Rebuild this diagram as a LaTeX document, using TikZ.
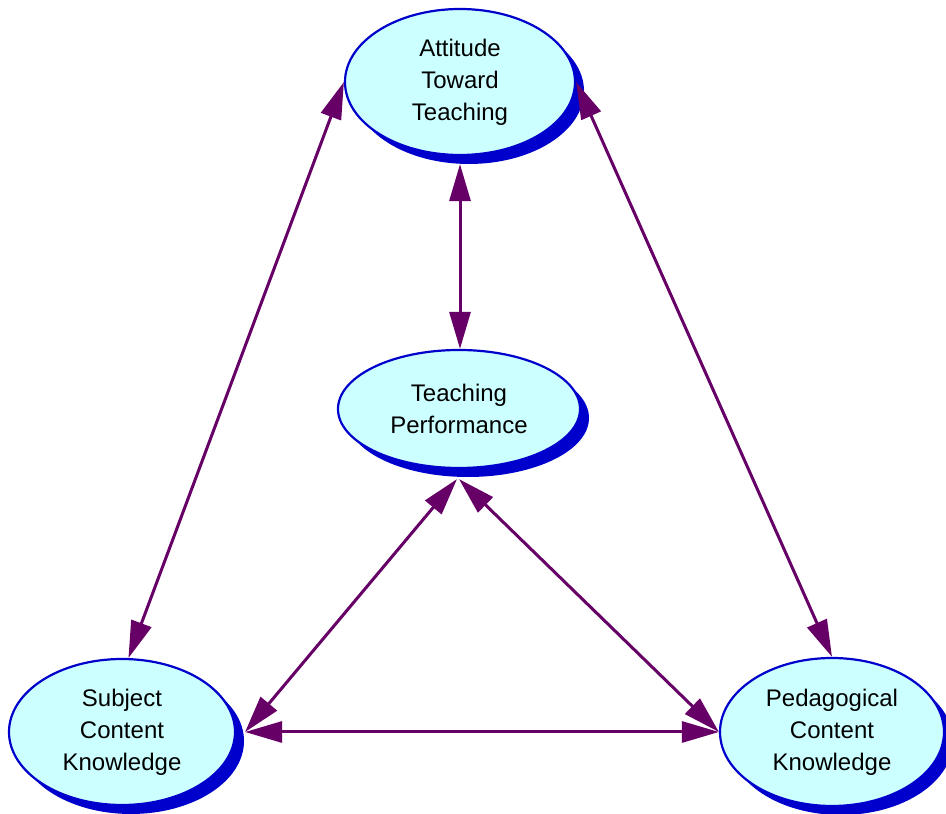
\documentclass[tikz,border=0pt]{standalone}
\usepackage{fontspec}
\setmainfont{Liberation Sans}
\usetikzlibrary{shapes.geometric,arrows.meta,shadows}
\definecolor{fillcyan}{HTML}{CCFFFF}
\definecolor{edgeblue}{HTML}{0000CC}
\definecolor{arrowpurple}{HTML}{660066}
\tikzset{
  concept/.style={ellipse, draw=edgeblue, line width=2.2pt, fill=fillcyan,
    inner sep=0pt, align=center, font=\fontsize{24}{32}\selectfont,
    general shadow={fill=edgeblue, draw=none, shadow xshift=9pt, shadow yshift=-9pt}},
  link/.style={draw=arrowpurple, line width=3pt,
    {Triangle[length=37pt,width=21pt]}-{Triangle[length=37pt,width=21pt]}}
}
\begin{document}
\begin{tikzpicture}[x=1pt,y=1pt]
\useasboundingbox (0,0) rectangle (946,814);
\node[concept, minimum width=230pt, minimum height=146pt] (att) at (460,732) {Attitude\\Toward\\Teaching};
\node[concept, minimum width=242pt, minimum height=118pt] (mid) at (459,405) {Teaching\\Performance};
\node[concept, minimum width=226pt, minimum height=146pt] (sck) at (122,82) {Subject\\Content\\Knowledge};
\node[concept, minimum width=224pt, minimum height=148pt] (pck) at (832,82) {Pedagogical\\Content\\Knowledge};
\draw[link] ([yshift=-8pt]att.south) -- (att.south |- mid.north);
\draw[link] (att.west) -- (sck.85);
\draw[link] (att.east) -- (pck.north);
\draw[link] ([xshift=-2pt,yshift=-10pt]mid.south) -- ([xshift=9pt]sck.east);
\draw[link] ([yshift=-10pt]mid.south) -- (pck.west);
\draw[link] ([xshift=9pt]sck.east) -- (pck.west);
\end{tikzpicture}
\end{document}
